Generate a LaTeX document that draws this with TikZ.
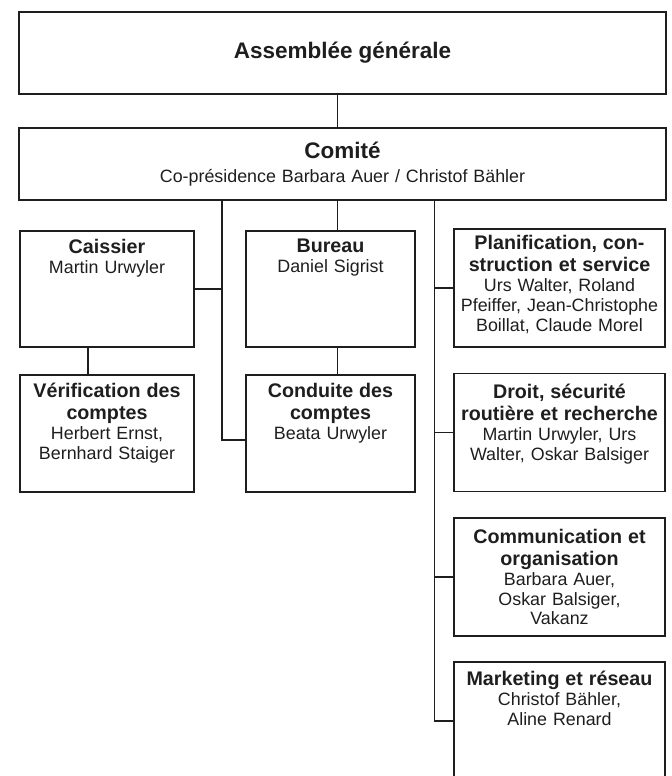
\documentclass[tikz,border=0pt]{standalone}
\usepackage{fontspec}
\setmainfont{Liberation Sans}
\usepackage{xcolor}
\usetikzlibrary{positioning}
\definecolor{ink}{HTML}{1E1E1E}
\newcommand{\namefont}{\fontsize{12.7}{14.2}\selectfont}
\newcommand{\toptitle}[1]{{\fontsize{16}{19}\selectfont\bfseries #1\par}}
\newcommand{\unithead}[1]{{\fontsize{14}{15.6}\selectfont\bfseries #1\par}}

\begin{document}
\begin{tikzpicture}[x=0.025cm,y=-0.025cm,
  every node/.style={text=ink},
  frame/.style={draw=ink,line width=0.9pt,inner sep=0pt},
  top/.style={frame,minimum width=16.175cm,text width=16cm,align=center,font=\namefont},
  unit/.style={frame,minimum height=2.95cm},
  unittext/.style={inner sep=0pt,align=center,font=\namefont},
  link/.style={draw=ink,line width=0.9pt}]
  \useasboundingbox (0,0) rectangle (671,776);
  % top of the tree
  \node[top,minimum height=2.05cm] (assembly) at (342.5,53) {\toptitle{Assemblée générale}};
  \node[top,minimum height=1.8cm] (comite) at (342.5,164) {\toptitle{Comité}\vspace{3pt}Co-présidence Barbara Auer / Christof Bähler};
  % left and middle columns
  \node[unit,minimum width=4.35cm,minimum height=2.9cm] (caissier) at (107,289) {};
  \node[unit,minimum width=4.225cm,minimum height=2.9cm] (bureau) at (330.5,289) {};
  \node[unit,minimum width=4.35cm,minimum height=2.925cm] (verif) at (107,433.5) {};
  \node[unit,minimum width=4.225cm,minimum height=2.925cm] (conduite) at (330.5,433.5) {};
  \node[unittext,text width=4.2cm,below=6pt of caissier.north] (caissiertext) {\unithead{Caissier}Martin Urwyler};
  \node[unittext,text width=4.1cm,below=6pt of bureau.north] (bureautext) {\unithead{Bureau}Daniel Sigrist};
  \node[unittext,text width=4.2cm,below=6pt of verif.north] (veriftext) {\unithead{Vérification des\\comptes}Herbert Ernst,\\Bernhard Staiger};
  \node[unittext,text width=4.1cm,below=6pt of conduite.north] (conduitetext) {\unithead{Conduite des\\comptes}Beata Urwyler};
  % right column
  \node[unit,minimum width=5.275cm] (plan) at (559.5,288) {};
  \node[unit,minimum width=5.275cm] (droit) at (559.5,432.5) {};
  \node[unit,minimum width=5.275cm] (comm) at (559.5,577) {};
  \node[unit,minimum width=5.275cm] (market) at (559.5,721) {};
  \node[unittext,text width=5.2cm,below=5pt of plan.north] (plantext) {\unithead{Planification, con-\\struction et service}Urs Walter, Roland\\Pfeiffer, Jean-Christophe\\Boillat, Claude Morel};
  \node[unittext,text width=5.2cm,below=8pt of droit.north] (droittext) {\unithead{Droit, sécurité\\routière et recherche}Martin Urwyler, Urs\\Walter, Oskar Balsiger};
  \node[unittext,text width=5.2cm,below=8pt of comm.north] (commtext) {\unithead{Communication et\\organisation}Barbara Auer,\\Oskar Balsiger,\\Vakanz};
  \node[unittext,text width=5.2cm,below=7pt of market.north] (markettext) {\unithead{Marketing et réseau}Christof Bähler,\\Aline Renard};
  % connectors
  \coordinate (vbus) at (88,0);
  \coordinate (lbus) at (222,0);
  \coordinate (mbus) at (337.5,0);
  \coordinate (rbus) at (434.5,0);
  \draw[link] (assembly.south -| mbus) -- (comite.north -| mbus);
  \draw[link] (comite.south -| mbus) -- (bureau.north -| mbus);
  \draw[link] (bureau.south -| mbus) -- (conduite.north -| mbus);
  \draw[link] (caissier.south -| vbus) -- (verif.north -| vbus);
  \draw[link] (comite.south -| lbus) |- ([yshift=-0.16cm]conduite.west);
  \draw[link] (caissier.east) -- (caissier.east -| lbus);
  \draw[link] (comite.south -| rbus) |- (market.west);
  \draw[link] (plan.west) -- (plan.west -| rbus);
  \draw[link] (droit.west) -- (droit.west -| rbus);
  \draw[link] (comm.west) -- (comm.west -| rbus);
\end{tikzpicture}
\end{document}
